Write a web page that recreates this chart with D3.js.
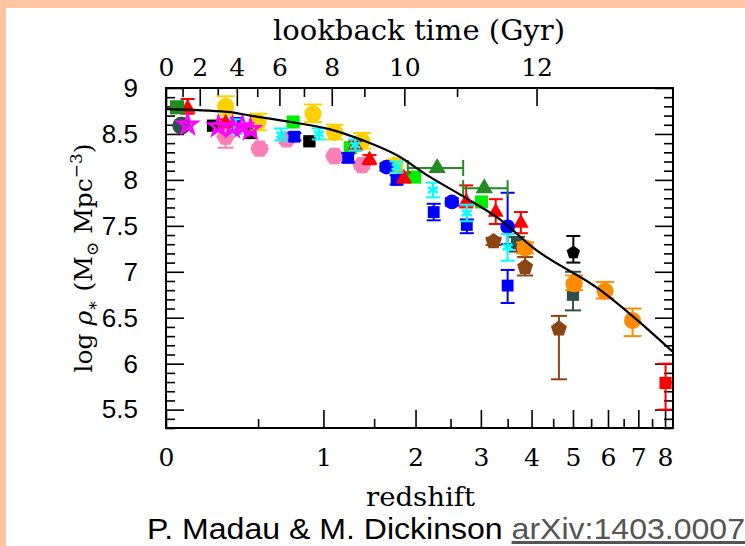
<!DOCTYPE html>
<html><head><meta charset="utf-8">
<script src="https://cdn.jsdelivr.net/npm/d3@7"></script>
<style>
html,body{margin:0;padding:0;background:#FFC4A0;}
svg{display:block;}
</style></head>
<body>
<svg id="c" width="745" height="546"></svg>
<script>
// ---------- DATA ----------
const redshiftMajor = [0,1,2,3,4,5,6,7,8];
const redshiftMinor = [0.5,1.5,2.5,3.5,4.5,5.5,6.5,7.5];
const lookbackMajor = [0,2,4,6,8,10,12];
const lookbackMinor = [1,3,5,7,9,11];
const yMajor = [5.5,6,6.5,7,7.5,8,8.5,9];

// [z, logRho, errLow, errHigh]
const darkSlateCircles = [[0.07,8.59,8.55,8.63]];
const greenSquares = [[0.05,8.79,8.74,8.84]];
const redTriangles = [[0.10,8.78,8.72,8.88],[0.30,8.62,8.57,8.66],[1.30,8.37,8.32,8.42],[1.45,8.22,8.17,8.27],[1.85,8.02,7.97,8.08],[2.75,7.76,7.70,7.94],[3.27,7.65,7.52,7.79],[3.77,7.53,7.42,7.65]];
const magentaStars = [[0.10,8.60,8.58,8.62],[0.26,8.58,8.55,8.61],[0.34,8.57,8.54,8.60],[0.40,8.58,8.55,8.61],[0.45,8.55,8.52,8.58]];
const goldCircles = [[0.30,8.80,8.70,8.91],[0.50,8.63,8.54,8.72],[0.91,8.72,8.63,8.82],[1.10,8.52,8.44,8.60],[1.37,8.42,8.34,8.51],[1.74,8.16,8.10,8.22]];
const blackSquares = [[0.23,8.59,8.56,8.62],[0.45,8.51,8.48,8.54],[0.88,8.42,8.39,8.45]];
const pinkHexagons = [[0.30,8.47,8.35,8.55],[0.51,8.34,8.30,8.38],[0.70,8.44,8.40,8.48],[1.10,8.26,8.22,8.30],[1.37,8.16,8.12,8.20]];
const blueSquares = [[0.36,8.62,8.57,8.66],[0.76,8.47,8.43,8.51],[1.23,8.24,8.19,8.29],[1.76,8.00,7.95,8.05],[2.25,7.65,7.56,7.74],[2.76,7.51,7.42,7.57],[3.50,6.85,6.66,7.02]];
const cyanStars = [[0.36,8.58,8.50,8.66],[0.66,8.49,8.43,8.56],[0.96,8.50,8.44,8.56],[1.30,8.38,8.32,8.44],[1.76,8.14,8.08,8.20],[2.24,7.89,7.81,7.97],[2.76,7.64,7.55,7.73],[3.50,7.27,7.12,7.41]];
const limeSquares = [[0.75,8.63,8.59,8.67],[1.25,8.35,8.31,8.39],[1.99,8.03,7.99,8.07],[3.01,7.76,7.72,7.80]];
// [z, logRho, zLow, zHigh]
const greenTriangles = [[2.30,8.13,1.90,2.70],[3.06,7.91,2.70,3.50]];
const blueCircles = [[1.64,8.14,8.10,8.18],[2.52,7.76,7.72,7.80],[3.50,7.49,7.30,7.86]];
const brownPentagons = [[3.23,7.33,7.29,7.37],[3.86,7.05,6.96,7.16],[4.64,6.38,5.83,6.52]];
const slateSquares = [[3.69,7.31,7.22,7.38],[5.00,6.75,6.58,7.00]];
const orangeCircles = [[3.86,7.26,7.20,7.32],[5.03,6.87,6.80,6.96],[5.91,6.79,6.71,6.89],[6.80,6.47,6.30,6.60]];
const blackPentagons = [[5.01,7.21,7.10,7.39]];
const redSquares = [[8.02,5.79,5.50,6.00]];

const modelZ = [0,0.31,0.45,0.73,1.06,1.38,1.76,2.19,2.70,3.35,4.04,5.77,6.83,8.31];
const modelLogRho = [8.77,8.74,8.70,8.63,8.55,8.43,8.27,8.035,7.82,7.57,7.26,6.80,6.51,6.13];

// ---------- LAYOUT ----------
const svg = d3.select("#c");
const L=166, R=673, T=88, B=428;
const x = d3.scaleLog().domain([1, 9.32]).range([L, R]);
const xz = z => x(1+z);
const y = d3.scaleLinear().domain([5.3, 9]).range([B, T]);

// cosmology for lookback time axis (H0=70, Om=0.3, OL=0.7)
const tH = 977.8/70, Om=0.3, OL=0.7;
const A = 2/(3*Math.sqrt(OL))*tH;
const t0 = A*Math.asinh(Math.sqrt(OL/Om));
const zOfLookback = t => { if (t<=0) return 0; const age=t0-t; return Math.pow(Math.sqrt(OL/Om)/Math.sinh(age/A), 2/3)-1; };

// backgrounds
svg.append("rect").attr("x",0).attr("y",0).attr("width",745).attr("height",546).attr("fill","#FFC4A0");
svg.append("rect").attr("x",6).attr("y",8).attr("width",745).attr("height",546).attr("fill","#fff");

const serif = "'DejaVu Serif', serif";
const sans = "'Liberation Sans', Arial, sans-serif";

// ---------- AXES ----------
function styleAxis(g){
  g.select(".domain").remove();
  g.selectAll(".tick line").attr("stroke","#000").attr("stroke-width",1.6);
}
// bottom
svg.append("g").attr("transform",`translate(0,${B})`)
  .call(d3.axisBottom(x).tickValues(redshiftMajor.map(d=>1+d)).tickSize(-18).tickPadding(20).tickFormat(d=>d3.format("d")(d-1)))
  .call(styleAxis)
  .call(g=>g.selectAll("text").attr("font-family",serif).attr("font-size",25).attr("fill","#000"));
svg.append("g").attr("transform",`translate(0,${B})`)
  .call(d3.axisBottom(x).tickValues(redshiftMinor.map(d=>1+d)).tickSize(-9).tickFormat(""))
  .call(styleAxis);
// top (lookback)
svg.append("g").attr("transform",`translate(0,${T})`)
  .call(d3.axisTop(x).tickValues(lookbackMajor.map(t=>1+zOfLookback(t))).tickSize(-18).tickPadding(12)
     .tickFormat((d,i)=>lookbackMajor[i]))
  .call(styleAxis)
  .call(g=>g.selectAll("text").attr("font-family",serif).attr("font-size",25).attr("fill","#000"));
svg.append("g").attr("transform",`translate(0,${T})`)
  .call(d3.axisTop(x).tickValues(lookbackMinor.map(t=>1+zOfLookback(t))).tickSize(-9).tickFormat(""))
  .call(styleAxis);
// left
const yMinor = d3.range(53,91).map(d=>d/10).filter(v=>!yMajor.some(m=>Math.abs(m-v)<1e-6));
svg.append("g").attr("transform",`translate(${L},0)`)
  .call(d3.axisLeft(y).tickValues(yMajor).tickSize(-18).tickPadding(28).tickFormat(d3.format("")))
  .call(styleAxis)
  .call(g=>g.selectAll("text").attr("font-family",sans).attr("font-size",26).attr("fill","#000"));
svg.append("g").attr("transform",`translate(${L},0)`)
  .call(d3.axisLeft(y).tickValues(yMinor).tickSize(-9).tickFormat(""))
  .call(styleAxis);
// right
svg.append("g").attr("transform",`translate(${R},0)`)
  .call(d3.axisRight(y).tickValues(yMajor).tickSize(-18).tickFormat(""))
  .call(styleAxis);
svg.append("g").attr("transform",`translate(${R},0)`)
  .call(d3.axisRight(y).tickValues(yMinor).tickSize(-9).tickFormat(""))
  .call(styleAxis);

// ---------- MARKERS ----------
const polygon = n => ({draw(ctx,size){ const r=Math.sqrt(size/ (n*0.5*Math.sin(2*Math.PI/n))); for(let i=0;i<n;i++){ const a=-Math.PI/2+2*Math.PI*i/n; const px=r*Math.cos(a), py=r*Math.sin(a); if(i===0) ctx.moveTo(px,py); else ctx.lineTo(px,py);} ctx.closePath(); }});
const pentagon = polygon(5);
const hexagon = {draw(ctx,size){ const r=Math.sqrt(size/(3*Math.sin(Math.PI/3))); for(let i=0;i<6;i++){ const a=2*Math.PI*i/6; const px=r*Math.cos(a), py=r*Math.sin(a); if(i===0) ctx.moveTo(px,py); else ctx.lineTo(px,py);} ctx.closePath(); }};

const series = [
  {data: pinkHexagons, color:"#F97FB5", shape: hexagon, size: 230, cap: 16},
  {data: blackSquares, color:"#000000", shape: d3.symbolSquare, size: 150, cap: 12},
  {data: goldCircles, color:"#FFD000", shape: d3.symbolCircle, size: 230, cap: 18},
  {data: limeSquares, color:"#00EE00", shape: d3.symbolSquare, size: 170, cap: 12},
  {data: blueSquares, color:"#0000FF", shape: d3.symbolSquare, size: 140, cap: 14},
  {data: redTriangles, color:"#FF0000", shape: d3.symbolTriangle, size: 110, cap: 14},
  {data: blueCircles, color:"#0000FF", shape: d3.symbolCircle, size: 170, cap: 14},
  {data: greenSquares, color:"#228B22", shape: d3.symbolSquare, size: 200, cap: 12},
  {data: darkSlateCircles, color:"#2F4F4F", shape: d3.symbolCircle, size: 260, cap: 12},
  {data: brownPentagons, color:"#8B4513", shape: pentagon, size: 170, cap: 16},
  {data: slateSquares, color:"#2F4F4F", shape: d3.symbolSquare, size: 150, cap: 16},
  {data: orangeCircles, color:"#FF8C00", shape: d3.symbolCircle, size: 230, cap: 18},
  {data: blackPentagons, color:"#000000", shape: pentagon, size: 120, cap: 14},
  {data: redSquares, color:"#FF0000", shape: d3.symbolSquare, size: 150, cap: 16},
  {data: cyanStars, color:"#00FFFF", shape: d3.symbolAsterisk, size: 90, cap: 14, stroke:true},
  {data: magentaStars, color:"#FF00FF", shape: d3.symbolStar, size: 110, cap: 10, open:true},
];

const gPts = svg.append("g");
series.forEach(s=>{
  const g = gPts.append("g");
  s.data.forEach(d=>{
    const [z,v,lo,hi] = d;
    const cx = xz(z), cy = y(v);
    if (lo!=null && hi!=null){
      g.append("line").attr("x1",cx).attr("x2",cx).attr("y1",y(lo)).attr("y2",y(hi)).attr("stroke",s.color).attr("stroke-width",2);
      [lo,hi].forEach(e=>g.append("line").attr("x1",cx-s.cap/2).attr("x2",cx+s.cap/2).attr("y1",y(e)).attr("y2",y(e)).attr("stroke",s.color).attr("stroke-width",2));
    }
    const p = g.append("path").attr("d", d3.symbol(s.shape, s.size)()).attr("transform",`translate(${cx},${cy})`);
    if (s.stroke || s.open) p.attr("fill","none").attr("stroke",s.color).attr("stroke-width",2.5);
    else p.attr("fill",s.color);
  });
});
// green triangles with horizontal error bars
const gT = gPts.append("g");
greenTriangles.forEach(([z,v,zl,zh])=>{
  const cy=y(v);
  gT.append("line").attr("x1",xz(zl)).attr("x2",xz(zh)).attr("y1",cy).attr("y2",cy).attr("stroke","#228B22").attr("stroke-width",2);
  [zl,zh].forEach(e=>gT.append("line").attr("x1",xz(e)).attr("x2",xz(e)).attr("y1",cy-8).attr("y2",cy+8).attr("stroke","#228B22").attr("stroke-width",2));
  gT.append("path").attr("d",d3.symbol(d3.symbolTriangle,130)()).attr("transform",`translate(${xz(z)},${cy})`).attr("fill","#228B22");
});

// model curve
const line = d3.line().x(d=>xz(d[0])).y(d=>y(d[1])).curve(d3.curveMonotoneX);
svg.append("path").datum(modelZ.map((z,i)=>[z,modelLogRho[i]])).attr("d",line)
  .attr("fill","none").attr("stroke","#000").attr("stroke-width",2.2);

// frame
svg.append("rect").attr("x",L).attr("y",T).attr("width",R-L).attr("height",B-T)
  .attr("fill","none").attr("stroke","#000").attr("stroke-width",2);

// ---------- TEXT ----------
svg.append("text").attr("x",273).attr("y",40)
  .attr("font-family",serif).attr("font-size",27).attr("textLength",292).attr("lengthAdjust","spacingAndGlyphs").text("lookback time (Gyr)");
svg.append("text").attr("x",366).attr("y",506)
  .attr("font-family",serif).attr("font-size",26).attr("textLength",109).attr("lengthAdjust","spacingAndGlyphs").text("redshift");
const yt = svg.append("text").attr("transform","translate(92,258) rotate(-90)").attr("text-anchor","middle")
  .attr("font-family",serif).attr("font-size",25);
yt.append("tspan").text("log ");
yt.append("tspan").attr("font-style","italic").text("ρ");
yt.append("tspan").attr("font-size",17).attr("dy",6).text("∗");
yt.append("tspan").attr("dy",-6).text(" (M");
yt.append("tspan").attr("font-size",17).attr("dy",6).text("⊙");
yt.append("tspan").attr("dy",-6).text(" Mpc");
yt.append("tspan").attr("font-size",17).attr("dy",-10).text("−3");
yt.append("tspan").attr("dy",10).text(")");

const cap = svg.append("text").attr("x",147).attr("y",539).attr("font-family",sans).attr("font-size",30).attr("fill","#000")
  .attr("textLength",598).attr("lengthAdjust","spacingAndGlyphs");
cap.append("tspan").text("P. Madau & M. Dickinson ");
cap.append("tspan").attr("fill","#555").attr("text-decoration","underline").text("arXiv:1403.0007");
</script>
</body></html>
